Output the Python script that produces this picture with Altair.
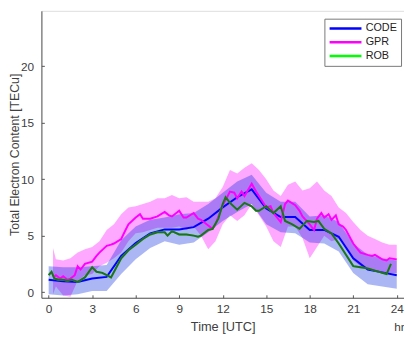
import altair as alt
import pandas as pd

# ---------------- data ----------------
code_t = list(range(0, 25))
code_v = [1.1, 0.95, 0.9, 1.2, 1.35, 3.2, 4.35, 5.2, 5.55, 5.55, 5.75, 6.5, 7.5,
          8.4, 9.1, 7.4, 6.65, 6.65, 5.5, 5.5, 4.9, 3.0, 2.0, 1.75, 1.5]
code_lo = [-0.2, -0.3, -0.2, 0.1, 0.1, 1.6, 2.9, 3.9, 4.5, 4.2, 4.4, 5.3, 6.3,
           7.1, 7.8, 6.0, 5.3, 5.2, 4.4, 4.3, 3.6, 1.7, 0.7, 0.5, 0.3]
code_hi = [2.3, 2.2, 2.2, 2.3, 2.4, 4.6, 5.8, 6.4, 6.6, 6.9, 7.0, 7.8, 8.8,
           9.8, 10.4, 8.8, 8.0, 8.0, 6.7, 6.8, 6.2, 4.3, 3.3, 3.0, 2.8]

gpr_t = [0.3, 0.5, 0.8, 1.0, 1.3, 1.5, 1.8, 2.0, 2.2, 2.5, 3.0, 3.3, 3.5, 4.0,
         4.3, 4.5, 5.0, 5.3, 5.5, 6.0, 6.3, 6.5, 7.0, 7.5, 8.0, 8.3, 8.5, 9.0,
         9.3, 9.5, 10.0, 10.3, 10.5, 11.0, 11.3, 11.5, 12.0, 12.3, 12.5, 12.8,
         13.0, 13.3, 13.5, 14.0, 14.3, 14.5, 15.0, 15.3, 15.5, 16.0, 16.3, 16.5,
         17.0, 17.3, 17.5, 18.0, 18.3, 18.5, 18.8, 19.0, 19.3, 19.5, 19.8, 20.0,
         20.3, 20.5, 21.0, 21.3, 21.5, 22.0, 22.3, 22.5, 23.0, 23.3, 23.5, 24.0]
gpr_v = [1.3, 1.5, 1.2, 1.4, 1.1, 1.2, 1.5, 2.3, 2.0, 2.5, 2.7, 3.2, 3.5, 4.1,
         4.2, 4.3, 4.7, 5.5, 6.0, 6.6, 6.9, 6.5, 6.5, 6.7, 7.1, 6.8, 6.7, 7.2,
         6.6, 6.6, 7.0, 6.5, 6.4, 5.9, 5.6, 6.0, 7.7, 8.4, 8.9, 8.8,
         8.3, 8.9, 8.5, 9.6, 8.9, 8.5, 7.5, 7.6, 7.0, 6.2, 7.8, 8.1,
         7.7, 7.2, 6.7, 6.0, 5.5, 6.5, 7.0, 6.6, 6.9, 6.4, 6.8, 6.0,
         5.8, 5.5, 4.3, 3.8, 3.5, 3.3, 3.2, 3.3, 2.9, 2.8, 3.0, 2.9]

gprband_t = [0.3, 0.5, 1.0, 1.5, 2.0, 2.5, 3.0, 3.5, 4.0, 4.5, 5.0, 5.5, 6.0,
             6.5, 7.0, 7.5, 8.0, 8.5, 9.0, 9.5, 10.0, 10.5, 11.0, 11.5, 12.0,
             12.5, 13.0, 13.5, 14.0, 14.5, 15.0, 15.5, 16.0, 16.5, 17.0, 17.5,
             18.0, 18.5, 19.0, 19.5, 20.0, 20.5, 21.0, 21.5, 22.0, 22.5, 23.0,
             23.5, 24.0]
gpr_lo = [-0.2, 0.5, -0.3, -0.4, 1.0, 1.5, 1.6, 2.3, 2.6, 3.0, 3.5, 4.5, 5.2,
          5.3, 5.5, 5.7, 5.7, 5.7, 5.8, 5.5, 5.8, 5.0, 3.8, 4.5, 6.0,
          6.8, 6.3, 6.8, 7.8, 6.8, 5.8, 4.5, 4.0, 5.8, 5.8, 4.8,
          3.0, 4.0, 5.0, 4.5, 4.7, 4.0, 2.8, 2.3, 2.0, 1.8, 1.8,
          1.7, 1.7]
gpr_hi = [3.9, 2.9, 2.8, 3.0, 3.5, 3.8, 4.0, 4.5, 5.5, 6.0, 6.9, 7.5, 7.6,
          7.8, 8.0, 8.3, 8.3, 8.6, 8.3, 8.4, 8.0, 8.0, 8.0, 8.3, 9.3,
          10.8, 10.5, 11.0, 11.4, 10.8, 10.0, 9.0, 8.5, 9.5, 9.8, 9.0,
          9.2, 9.8, 9.0, 8.5, 7.5, 7.0, 6.2, 5.5, 5.0, 4.7, 4.4,
          4.2, 4.2]

rob_t = [0.0, 0.2, 0.4, 0.7, 1.0, 1.3, 1.6, 2.0, 2.5, 3.0, 3.3, 3.7, 4.0, 4.3,
         5.0, 5.5, 6.0, 6.5, 7.0, 7.5, 8.0, 8.2, 8.5, 9.0, 9.5, 10.0, 10.3,
         10.5, 11.0, 11.3, 11.7, 12.0, 12.2, 12.5, 13.0, 13.5, 14.0, 14.3,
         14.5, 15.0, 15.5, 16.0, 16.3, 16.8, 17.3, 17.8, 18.3, 18.6, 19.0,
         19.5, 20.0, 20.5, 21.0, 21.5, 22.0, 22.5, 23.0, 23.3, 23.6]
rob_v = [1.5, 1.8, 1.2, 1.1, 1.1, 1.0, 1.1, 0.9, 1.3, 2.2, 1.8, 1.7, 1.5, 1.3,
         3.0, 3.7, 4.2, 4.7, 5.1, 5.3, 5.3, 5.0, 5.4, 5.1, 5.1, 5.0, 4.9,
         5.0, 5.5, 5.6, 6.5, 7.8, 8.4, 7.9, 7.3, 7.9, 7.6, 7.2,
         7.2, 7.6, 7.0, 7.6, 6.3, 6.0, 5.6, 6.3, 6.2, 6.3, 5.6,
         5.2, 4.3, 3.3, 2.3, 2.2, 2.1, 1.9, 1.7, 1.6, 2.5]

x_ticks = [0, 3, 6, 9, 12, 15, 18, 21, 24]
y_ticks = [0, 5, 10, 15, 20]
series_names = ["CODE", "GPR", "ROB"]
series_colors = ["#0000ff", "#ff00ff", "#00ff00"]

# ---------------- tables ----------------
code_band = pd.DataFrame({"t": code_t, "lo": code_lo, "hi": code_hi})
gpr_band = pd.DataFrame({"t": gprband_t, "lo": gpr_lo, "hi": gpr_hi})
lines = pd.concat([
    pd.DataFrame({"t": code_t, "v": code_v, "series": "CODE"}),
    pd.DataFrame({"t": gpr_t, "v": gpr_v, "series": "GPR"}),
    pd.DataFrame({"t": rob_t, "v": rob_v, "series": "ROB"}),
])
rob_df = pd.DataFrame({"t": rob_t, "v": rob_v})

FONT = "Liberation Sans"
TXT = "#404040"
xdom = [-0.5, 24.5]
ydom = [-0.5, 24.9]

xs = alt.Scale(domain=xdom, nice=False, zero=False)
ys = alt.Scale(domain=ydom, nice=False, zero=False)

main_x_axis = alt.Axis(values=x_ticks, ticks=False, tickSize=0, grid=False,
                       title="Time [UTC]", titleFontSize=13, titleFontWeight="normal",
                       titleColor=TXT, labelColor=TXT, labelFontSize=12,
                       labelPadding=6, titlePadding=6, domainColor="#555555",
                       labelFont=FONT, titleFont=FONT, orient="bottom")
main_y_axis = alt.Axis(values=y_ticks, ticks=False, tickSize=0, grid=False,
                       title="Total Electron Content [TECu]", titleFontSize=12.5,
                       titleFontWeight="normal", titleColor=TXT, labelColor=TXT,
                       labelFontSize=12, labelPadding=8,
                       titleX=-27, titleY=146, titleAngle=270,
                       titleAlign="center", titleBaseline="middle",
                       domainColor="#555555", labelFont=FONT, titleFont=FONT,
                       orient="left")
tick_x_axis = alt.Axis(values=x_ticks, domain=False, labels=False, grid=False,
                       ticks=True, tickSize=3, offset=-3, title=None,
                       tickColor="#555555", orient="bottom")
tick_y_axis = alt.Axis(values=y_ticks, domain=False, labels=False, grid=False,
                       ticks=True, tickSize=3, offset=-3, title=None,
                       tickColor="#555555", orient="left")

pink = alt.Chart(gpr_band).mark_area(color="#ff00ff", opacity=0.34).encode(
    x=alt.X("t:Q", scale=xs, axis=main_x_axis),
    y=alt.Y("lo:Q", scale=ys, axis=main_y_axis),
    y2="hi:Q",
)
blue = alt.Chart(code_band).mark_area(color="#0020e0", opacity=0.33).encode(
    x=alt.X("t:Q", scale=xs, axis=tick_x_axis),
    y=alt.Y("lo:Q", scale=ys, axis=tick_y_axis),
    y2="hi:Q",
)
line_layer = alt.Chart(lines).mark_line(strokeWidth=2).encode(
    x=alt.X("t:Q", scale=xs, axis=None),
    y=alt.Y("v:Q", scale=ys, axis=None),
    color=alt.Color("series:N", sort=series_names,
                    scale=alt.Scale(domain=series_names, range=series_colors),
                    legend=alt.Legend(title=None, orient="none", legendX=288, legendY=8,
                                      symbolType="stroke", symbolSize=1050,
                                      symbolStrokeWidth=2.5, clipHeight=12,
                                      rowPadding=2, labelFontSize=11, labelFont=FONT,
                                      labelColor="#222222", strokeColor="#777777",
                                      fillColor="white", padding=4, symbolOffset=0,
                                      labelOffset=3)),
    order=alt.Order("t:Q"),
)
rob_over = alt.Chart(rob_df).mark_line(strokeWidth=2, color="#333333", opacity=0.72).encode(
    x=alt.X("t:Q", scale=xs, axis=None),
    y=alt.Y("v:Q", scale=ys, axis=None),
)
hr_text = alt.Chart(pd.DataFrame({"label": ["hr"]})).mark_text(
    align="left", baseline="middle", fontSize=12, font=FONT, color=TXT
).encode(x=alt.value(359), y=alt.value(322), text="label:N")

chart = alt.layer(pink, blue, line_layer, rob_over, hr_text).resolve_axis(
    x="independent", y="independent"
).properties(
    width=369, height=292,
    autosize=alt.AutoSizeParams(type="none"),
    padding={"left": 34, "top": 0, "right": 0, "bottom": 34},
).configure_view(stroke=None).configure(background="white")

chart.save("out.html", embed_options={"renderer": "svg", "actions": False})
